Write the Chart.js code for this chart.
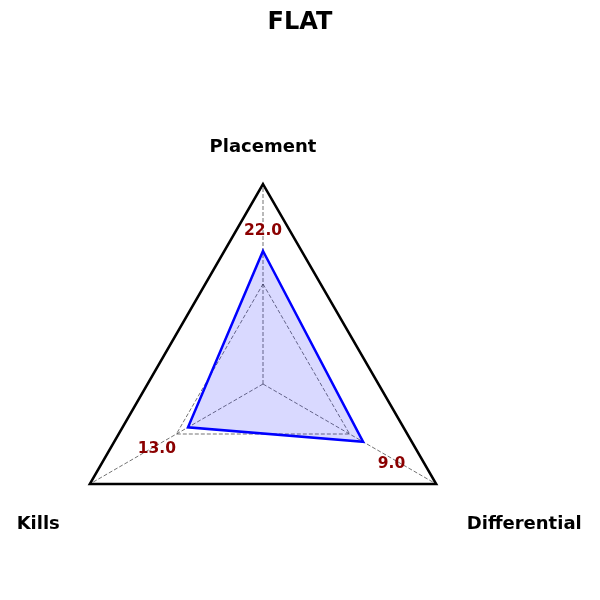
<!DOCTYPE html>
<html>
<head>
<meta charset="utf-8">
<script src="https://cdn.jsdelivr.net/npm/chart.js@4"></script>
<style>
  html, body { margin: 0; padding: 0; background: #fff; }
  #wrap { width: 600px; height: 600px; }
</style>
</head>
<body>
<div id="wrap"><canvas id="radarChart" width="600" height="600"></canvas></div>
<script>
"use strict";

// axes, clockwise from the top
const categories = ["Placement", "Differential", "Kills"];
// scaled position of each point (0..1 of the outer triangle)
const scaledValues = [0.665, 0.578, 0.433];
// raw values printed next to the points
const rawValues = [22.0, 9.0, 13.0];
const chartTitle = "FLAT";

const FONT = "'DejaVu Sans', sans-serif";
const ctx = document.getElementById("radarChart");

// value labels sit along each axis, a bit outside the point (px beyond point)
const valueLabelGap = [24, 34, 36];
// axis name placement: distance from center and nudge in px
const axisLabelPlace = [
  { dist: 238, dx: 0 },
  { dist: 278, dx: 20.5 },
  { dist: 278, dx: 16 },
];

const textPlugin = {
  id: "radarText",
  afterDatasetsDraw(chart) {
    const scale = chart.scales.r;
    const c = chart.ctx;
    c.save();
    c.textAlign = "center";
    c.textBaseline = "middle";

    // title, centred on the whole canvas
    c.fillStyle = "#000";
    c.font = "bold 24px " + FONT;
    c.fillText(chartTitle, chart.width / 2, 23);

    // value labels
    c.fillStyle = "#8b0000";
    c.font = "bold 15.5px " + FONT;
    rawValues.forEach((v, i) => {
      const d = scale.getDistanceFromCenterForValue(scaledValues[i]) + valueLabelGap[i];
      const p = scale.getPointPosition(i, d);
      c.fillText(v.toFixed(1), p.x - (i === 1 ? 1 : 0), p.y + 3.5 + (i === 1 ? 1.5 : 0));
    });

    // axis names
    c.fillStyle = "#000";
    c.font = "bold 18px " + FONT;
    categories.forEach((name, i) => {
      const p = scale.getPointPosition(i, axisLabelPlace[i].dist);
      c.fillText(name, p.x + axisLabelPlace[i].dx, p.y + 1);
    });
    c.restore();
  },
};

new Chart(ctx, {
  type: "radar",
  data: {
    labels: categories,
    datasets: [
      {
        data: scaledValues,
        borderColor: "#0000ff",
        borderWidth: 2.5,
        backgroundColor: "rgba(0, 0, 255, 0.15)",
        fill: true,
        pointRadius: 0,
        pointHoverRadius: 0,
      },
    ],
  },
  options: {
    responsive: false,
    animation: false,
    events: [],
    layout: {
      padding: { left: 63, right: 137, top: 184, bottom: 16 },
    },
    plugins: {
      legend: { display: false },
      tooltip: { enabled: false },
      title: { display: false },
    },
    scales: {
      r: {
        min: 0,
        max: 1,
        ticks: { display: false, stepSize: 0.5 },
        pointLabels: { display: false },
        grid: {
          color: (c) => (c.index === 2 ? "#000" : "rgba(0,0,0,0.55)"),
          lineWidth: (c) => (c.index === 2 ? 2.5 : 1),
        },
        border: {
          dash: (c) => (c.index === 2 ? [] : [4, 2]),
        },
        angleLines: {
          display: true,
          color: "rgba(0,0,0,0.55)",
          lineWidth: 1,
          borderDash: [4, 2],
        },
      },
    },
  },
  plugins: [textPlugin],
});
</script>
</body>
</html>
